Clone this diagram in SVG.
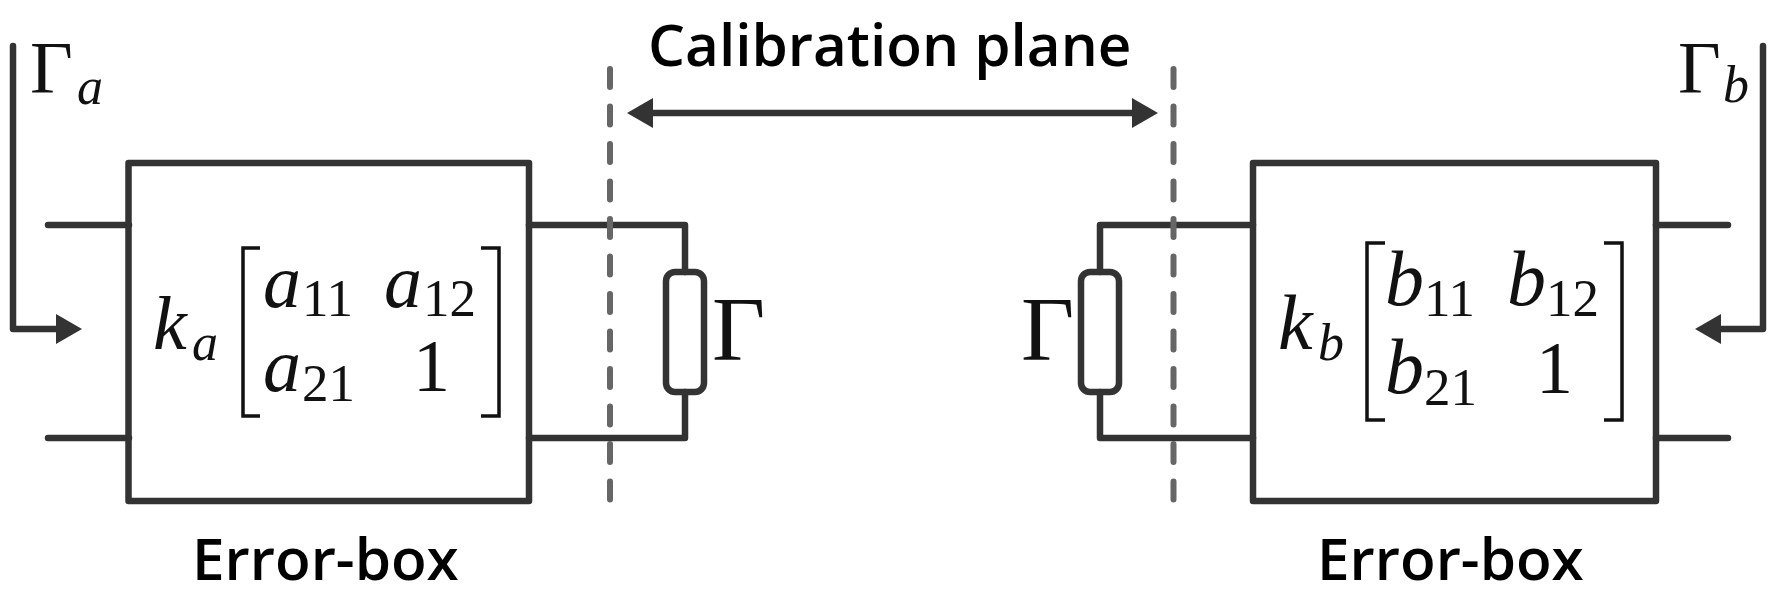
<svg xmlns="http://www.w3.org/2000/svg" width="1781" height="613" viewBox="0 0 1781 613">
<style>
.w{fill:none;stroke:#333;stroke-width:6.5;stroke-linecap:round;stroke-linejoin:round}
.a{fill:none;stroke:#333;stroke-width:6.5;stroke-linejoin:round;stroke-linecap:round}
.d{fill:none;stroke:#666;stroke-width:6;stroke-dasharray:18 19.5;stroke-linecap:round}
.br{fill:none;stroke:#111;stroke-width:3.5}
.l{font-family:"Open Sans",sans-serif;font-weight:600;font-size:58.4px;fill:#000}
.m{font-family:"Liberation Serif",serif;font-style:italic;font-size:76px;fill:#111}
.mb{font-family:"Liberation Serif",serif;font-style:italic;font-size:78px;fill:#111}
.s{font-family:"Liberation Serif",serif;font-size:53px;fill:#111}
.si{font-family:"Liberation Serif",serif;font-style:italic;font-size:52px;fill:#111}
.n{font-family:"Liberation Serif",serif;font-size:74px;fill:#111}
.g{font-family:"Liberation Serif",serif;font-size:92px;fill:#111}
</style>
<defs>
<marker id="ah" viewBox="0 0 26 30" refX="18" refY="15" markerWidth="26" markerHeight="30" markerUnits="userSpaceOnUse" orient="auto-start-reverse"><path d="M0 0L26 15L0 30Z" fill="#333"/></marker>
</defs>
<g id="connectors">
<path class="w" d="M48 225H129M48 438H129"/>
<path class="w" d="M529 225H685V272M685 392V438H529"/>
<path class="w" d="M1656 225H1728M1656 438H1728"/>
<path class="w" d="M1253 225H1100V272M1100 392V438H1253"/>
<path class="a" marker-end="url(#ah)" d="M13 46V329H74"/>
<path class="a" marker-end="url(#ah)" d="M1763 46V329H1703"/>
<path class="a" marker-start="url(#ah)" marker-end="url(#ah)" d="M635 113H1150"/>
<path class="d" d="M610 69V500"/>
<path class="d" d="M1173.5 69V500"/>
</g>
<g id="error-box-a">
<rect class="w" x="128.5" y="163" width="400.5" height="338"/>
<path class="br" d="M260 248H243V416H260M481 248H499V416H481"/>
<text class="m" x="153" y="349">k</text><text class="si" x="192" y="360">a</text>
<text class="m" x="263" y="307">a</text><text class="s" x="302" y="316">11</text>
<text class="m" x="384" y="307">a</text><text class="s" x="423" y="316">12</text>
<text class="m" x="263" y="391">a</text><text class="s" x="302" y="401">21</text>
<text class="n" x="413" y="391">1</text>
<text class="l" x="192" y="580">Error-box</text>
</g>
<g id="error-box-b">
<rect class="w" x="1253" y="163" width="403" height="338"/>
<path class="br" d="M1385 243H1367V420H1385M1604 243H1622V420H1604"/>
<text class="mb" x="1278" y="349">k</text><text class="si" x="1318" y="360">b</text>
<text class="mb" x="1385" y="305">b</text><text class="s" x="1424" y="316">11</text>
<text class="mb" x="1507" y="305">b</text><text class="s" x="1546" y="316">12</text>
<text class="mb" x="1385" y="393">b</text><text class="s" x="1424" y="405">21</text>
<text class="n" x="1536" y="393">1</text>
<text class="l" x="1317" y="580">Error-box</text>
</g>
<g id="load-a">
<rect class="w" x="666" y="272" width="38" height="120" rx="9"/>
<text class="g" x="712" y="360">Γ</text>
</g>
<g id="load-b">
<rect class="w" x="1081" y="272" width="38" height="120" rx="9"/>
<text class="g" x="1021" y="360">Γ</text>
</g>
<g id="gamma-a"><text class="n" x="30" y="93">Γ</text><text class="si" x="77" y="104">a</text></g>
<g id="gamma-b"><text class="n" x="1678" y="93">Γ</text><text class="si" x="1723" y="102">b</text></g>
<g id="plane-label"><text class="l" x="648" y="66">Calibration plane</text></g>
</svg>
